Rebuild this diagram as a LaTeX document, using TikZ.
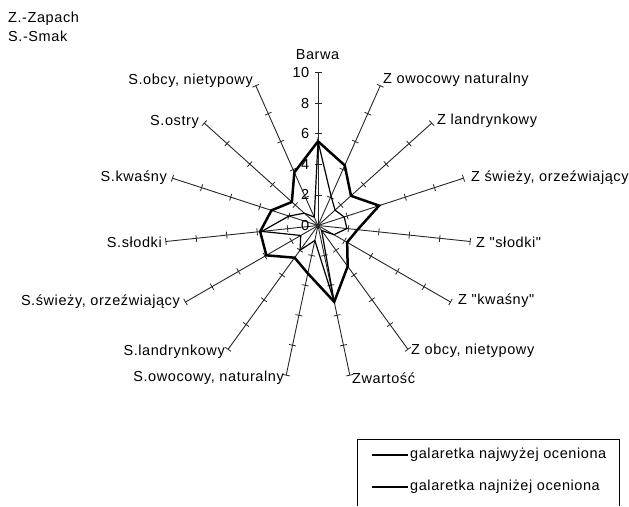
\documentclass[tikz,border=0pt]{standalone}
\usepackage{fontspec}
\setmainfont{Liberation Sans}[LetterSpace=4.0,Ligatures=TeXOff]
\usetikzlibrary{calc}
\begin{document}
\begin{tikzpicture}[x=1pt,y=-1pt,
  axisline/.style={line width=0.9pt,black!85},
  tickmark/.style={line width=0.8pt,black!85},
  boldser/.style={line width=2.5pt,black,line join=miter},
  thinser/.style={line width=1.2pt,black,line join=miter},
  lbl/.style={inner sep=0pt,font=\fontsize{14.5}{17}\selectfont},
  legbox/.style={line width=0.8pt,black}]
\useasboundingbox (0,0) rectangle (629,506);
\coordinate (C) at (318,225.5);
% axes and ticks
\foreach \i in {0,...,14}{
  \coordinate (A\i) at ({318+153*sin(24*\i)},{225.5-153*cos(24*\i)});
  \draw[axisline] (C) -- (A\i);
  \foreach \k in {2,4,6,8,10}{
    \coordinate (T\i-\k) at ({318+15.3*\k*sin(24*\i)},{225.5-15.3*\k*cos(24*\i)});
    \draw[tickmark] ($(T\i-\k)+({3.5*cos(24*\i)},{3.5*sin(24*\i)})$) -- ($(T\i-\k)-({3.5*cos(24*\i)},{3.5*sin(24*\i)})$);
  }
}
% Barwa scale labels
\foreach \v in {0,2,4,6,8,10}{
  \node[lbl,anchor=east] (s\v) at (309.5,{225.5-15.3*\v}) {\v};
}
% data: best rated (bold)
\foreach \v [count=\i from 0] in {5.5,4.3,2.9,4.2,2.6,2.2,3.3,5.1,3.2,2.6,3.9,3.8,3.2,2.3,3.8}{
  \coordinate (B\i) at ({318+15.3*\v*sin(24*\i)},{225.5-15.3*\v*cos(24*\i)});
}
% data: worst rated (thin)
\foreach \v [count=\i from 0] in {5.5,2.1,1.5,1.8,1.9,1.2,0.4,5.1,1.0,2.0,1.3,3.7,2.0,1.2,0.6}{
  \coordinate (W\i) at ({318+15.3*\v*sin(24*\i)},{225.5-15.3*\v*cos(24*\i)});
}
\draw[thinser] (W0) \foreach \i in {1,...,14}{ -- (W\i)} -- cycle;
\draw[boldser] (B0) \foreach \i in {1,...,14}{ -- (B\i)} -- cycle;
% axis labels
\node[lbl] (l0) at (317.5,55) {Barwa};
\node[lbl,anchor=west] (l1) at (383,80) {Z owocowy naturalny};
\node[lbl,anchor=west] (l2) at (437,121) {Z landrynkowy};
\node[lbl,anchor=west] (l3) at (471,178) {Z świeży, orzeźwiający};
\node[lbl,anchor=west] (l4) at (476,242) {Z "słodki"};
\node[lbl,anchor=west] (l5) at (458,301) {Z "kwaśny"};
\node[lbl,anchor=west] (l6) at (411,351) {Z obcy, nietypowy};
\node[lbl,anchor=west] (l7) at (352,378) {Zwartość};
\node[lbl,anchor=east] (l8) at (284,378) {S.owocowy, naturalny};
\node[lbl,anchor=east] (l9) at (225,352) {S.landrynkowy};
\node[lbl,anchor=east] (l10) at (180,302) {S.świeży, orzeźwiający};
\node[lbl,anchor=east] (l11) at (162,242) {S.słodki};
\node[lbl,anchor=east] (l12) at (167,178) {S.kwaśny};
\node[lbl,anchor=east] (l13) at (199,122) {S.ostry};
\node[lbl,anchor=east] (l14) at (253,81) {S.obcy, nietypowy};
% key
\node[lbl,anchor=west] (k1) at (8,19) {Z.-Zapach};
\node[lbl,anchor=west] (k2) at (8,36) {S.-Smak};
% legend
\coordinate (g1) at (357,506);
\coordinate (g2) at (357,439);
\coordinate (g3) at (619,439);
\coordinate (g4) at (619,506);
\draw[legbox] (g1) -- (g2) -- (g3) -- (g4);
\coordinate (m1a) at (372,455); \coordinate (m1b) at (408,455);
\coordinate (m2a) at (372,487); \coordinate (m2b) at (408,487);
\draw[line width=2.2pt] (m1a) -- (m1b);
\draw[line width=1.2pt] (m2a) -- (m2b);
\node[lbl,anchor=west] (t1) at (410,455) {galaretka najwyżej oceniona};
\node[lbl,anchor=west] (t2) at (410,487) {galaretka najniżej oceniona};
\end{tikzpicture}
\end{document}
